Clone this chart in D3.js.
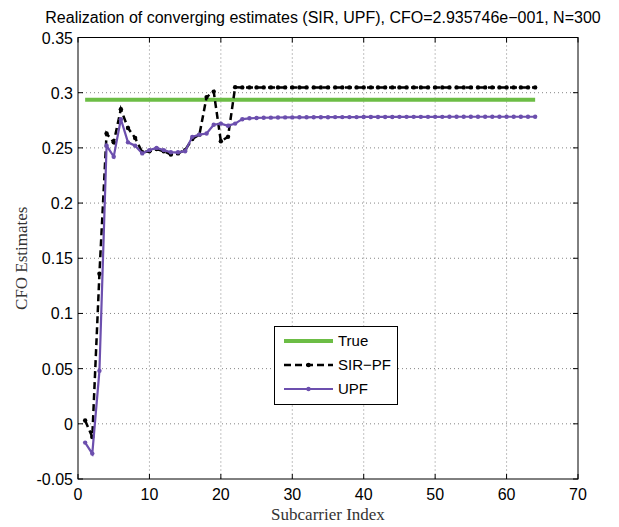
<!DOCTYPE html>
<meta charset="utf-8">
<style>
body { margin: 0; background: #fff; }
.grid line { stroke: #666; stroke-width: 0.8px; stroke-dasharray: 1,3; }
.tick-label { font: 16px "Liberation Sans", Arial, sans-serif; fill: #000; }
.title { font: 16px "Liberation Sans", Arial, sans-serif; fill: #000; }
.axis-label { font: 17px "Liberation Serif", "DejaVu Serif", serif; fill: #333; }
.legend text { font: 15px "Liberation Sans", Arial, sans-serif; fill: #000; }
</style>
<svg width="619" height="527"></svg>
<script src="https://d3js.org/d3.v7.min.js"></script>
<script>

var xTicks = [0, 10, 20, 30, 40, 50, 60, 70];
var yTicks = [-0.05, 0, 0.05, 0.1, 0.15, 0.2, 0.25, 0.3, 0.35];
var yTickLabels = ["-0.05", "0", "0.05", "0.1", "0.15", "0.2", "0.25", "0.3", "0.35"];

var cfoTrue = 0.2935746;
var subcarriers = [1, 2, 3, 4, 5, 6, 7, 8, 9, 10, 11, 12, 13, 14, 15, 16, 17, 18, 19, 20,
  21, 22, 23, 24, 25, 26, 27, 28, 29, 30, 31, 32, 33, 34, 35, 36, 37, 38, 39, 40,
  41, 42, 43, 44, 45, 46, 47, 48, 49, 50, 51, 52, 53, 54, 55, 56, 57, 58, 59, 60,
  61, 62, 63, 64];

var sirValues = [0.003, -0.012, 0.136, 0.263, 0.255, 0.285, 0.268, 0.259, 0.246, 0.247,
  0.249, 0.247, 0.244, 0.245, 0.248, 0.258, 0.262, 0.296, 0.301, 0.256,
  0.260, 0.305, 0.3048, 0.3048, 0.3048, 0.3048, 0.3048, 0.3048, 0.3048, 0.3048,
  0.3048, 0.3048, 0.3048, 0.3048, 0.3048, 0.3048, 0.3048, 0.3048, 0.3048, 0.3048,
  0.3048, 0.3048, 0.3048, 0.3048, 0.3048, 0.3048, 0.3048, 0.3048, 0.3048, 0.3048,
  0.3048, 0.3048, 0.3048, 0.3048, 0.3048, 0.3048, 0.3048, 0.3048, 0.3048, 0.3048,
  0.3048, 0.3048, 0.3048, 0.3048];

var upfValues = [-0.017, -0.027, 0.048, 0.252, 0.242, 0.276, 0.255, 0.252, 0.245, 0.248,
  0.250, 0.248, 0.246, 0.246, 0.247, 0.260, 0.262, 0.263, 0.271, 0.272,
  0.270, 0.272, 0.276, 0.2768, 0.2771, 0.2773, 0.2774, 0.2775, 0.2776, 0.2776,
  0.2777, 0.2777, 0.2778, 0.2778, 0.2778, 0.2779, 0.2779, 0.2779, 0.2779, 0.2780,
  0.2780, 0.2780, 0.2780, 0.2780, 0.2781, 0.2781, 0.2781, 0.2781, 0.2781, 0.2781,
  0.2781, 0.2782, 0.2782, 0.2782, 0.2782, 0.2782, 0.2782, 0.2782, 0.2782, 0.2782,
  0.2782, 0.2782, 0.2782, 0.2782];

var svg = d3.select("svg"),
    pLeft = 78, pRight = 578, pTop = 37.5, pBottom = 479;

var x = d3.scaleLinear().domain([0, 70]).range([pLeft, pRight]),
    y = d3.scaleLinear().domain([-0.05, 0.35]).range([pBottom, pTop]);

// grid
var grid = svg.append("g").attr("class", "grid");
grid.selectAll(".vx").data(xTicks.slice(1, -1)).enter().append("line")
    .attr("x1", x).attr("x2", x).attr("y1", pTop).attr("y2", pBottom);
grid.selectAll(".hy").data(yTicks.slice(1, -1)).enter().append("line")
    .attr("y1", y).attr("y2", y).attr("x1", pLeft).attr("x2", pRight);

var line = d3.line()
    .x(function(d) { return x(d[0]); })
    .y(function(d) { return y(d[1]); });

// True
svg.append("path")
    .attr("d", line([[subcarriers[0], cfoTrue], [subcarriers[subcarriers.length - 1], cfoTrue]]))
    .attr("fill", "none").attr("stroke", "#6cbd45").attr("stroke-width", 4);

// SIR-PF
var sir = subcarriers.map(function(s, i) { return [s, sirValues[i]]; });
svg.append("path")
    .attr("d", line(sir))
    .attr("fill", "none").attr("stroke", "#000").attr("stroke-width", 2.5)
    .attr("stroke-dasharray", "7,4");
svg.append("g").selectAll("circle").data(sir).enter().append("circle")
    .attr("cx", function(d) { return x(d[0]); })
    .attr("cy", function(d) { return y(d[1]); })
    .attr("r", 2.2).attr("fill", "#000");

// UPF
var upf = subcarriers.map(function(s, i) { return [s, upfValues[i]]; });
svg.append("path")
    .attr("d", line(upf))
    .attr("fill", "none").attr("stroke", "#6c4fae").attr("stroke-width", 2.2);
svg.append("g").selectAll("circle").data(upf).enter().append("circle")
    .attr("cx", function(d) { return x(d[0]); })
    .attr("cy", function(d) { return y(d[1]); })
    .attr("r", 2.2).attr("fill", "#6c4fae");

// box
svg.append("rect")
    .attr("x", pLeft).attr("y", pTop).attr("width", pRight - pLeft).attr("height", pBottom - pTop)
    .attr("fill", "none").attr("stroke", "#000").attr("stroke-width", 1);

// ticks (inward, all four sides)
var tk = svg.append("g").attr("stroke", "#000").attr("stroke-width", 1);
xTicks.forEach(function(t) {
  tk.append("line").attr("x1", x(t)).attr("x2", x(t)).attr("y1", pBottom).attr("y2", pBottom - 5);
  tk.append("line").attr("x1", x(t)).attr("x2", x(t)).attr("y1", pTop).attr("y2", pTop + 5);
});
yTicks.forEach(function(t) {
  tk.append("line").attr("y1", y(t)).attr("y2", y(t)).attr("x1", pLeft).attr("x2", pLeft + 5);
  tk.append("line").attr("y1", y(t)).attr("y2", y(t)).attr("x1", pRight).attr("x2", pRight - 5);
});

svg.append("g").selectAll("text").data(xTicks).enter().append("text")
    .attr("class", "tick-label")
    .attr("x", x).attr("y", pBottom + 21)
    .attr("text-anchor", "middle")
    .text(function(d) { return d; });

svg.append("g").selectAll("text").data(yTicks).enter().append("text")
    .attr("class", "tick-label")
    .attr("x", pLeft - 5).attr("y", function(d) { return y(d) + 6; })
    .attr("text-anchor", "end")
    .text(function(d, i) { return yTickLabels[i]; });

svg.append("text").attr("class", "title")
    .attr("x", (pLeft + pRight) / 2 - 5).attr("y", 23)
    .attr("text-anchor", "middle")
    .text("Realization of converging estimates (SIR, UPF), CFO=2.935746e\u2212001, N=300");

svg.append("text").attr("class", "axis-label")
    .attr("x", (pLeft + pRight) / 2).attr("y", 520)
    .attr("text-anchor", "middle")
    .text("Subcarrier Index");

svg.append("text").attr("class", "axis-label")
    .attr("transform", "translate(27," + ((pTop + pBottom) / 2) + ") rotate(-90)")
    .attr("text-anchor", "middle")
    .text("CFO Estimates");

// legend
var lg = svg.append("g").attr("class", "legend");
lg.append("rect").attr("x", 274.5).attr("y", 326.5).attr("width", 123).attr("height", 78)
    .attr("fill", "#fff").attr("stroke", "#000").attr("stroke-width", 1);
var items = [
  {name: "True", color: "#6cbd45", w: 4, dash: null, dot: false},
  {name: "SIR\u2212PF", color: "#000", w: 2.5, dash: "7,4", dot: true},
  {name: "UPF", color: "#6c4fae", w: 2.2, dash: null, dot: true}
];
items.forEach(function(it, i) {
  var yy = 341 + i * 24;
  lg.append("line").attr("x1", 284).attr("x2", 333).attr("y1", yy).attr("y2", yy)
      .attr("stroke", it.color).attr("stroke-width", it.w)
      .attr("stroke-dasharray", it.dash);
  if (it.dot) lg.append("circle").attr("cx", 308.5).attr("cy", yy).attr("r", 2.2).attr("fill", it.color);
  lg.append("text").attr("x", 338).attr("y", yy + 5).text(it.name);
});

</script>
